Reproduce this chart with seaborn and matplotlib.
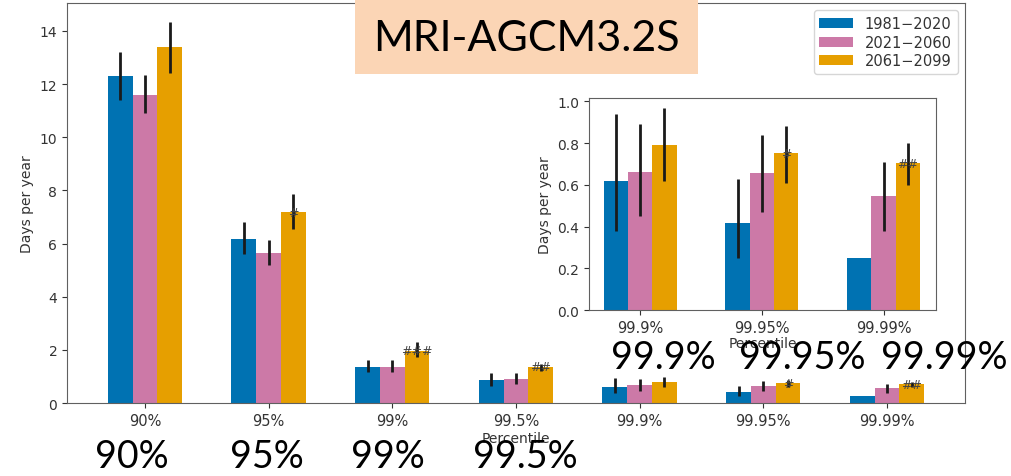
import numpy as np
import pandas as pd
import matplotlib.pyplot as plt
from matplotlib.patches import Rectangle
import seaborn as sns

# Data
percentiles = ['90%', '95%', '99%', '99.5%', '99.9%', '99.95%', '99.99%']
periods = ['1981−2020', '2021−2060', '2061−2099']

mean_1981 = [12.3, 6.18, 1.37, 0.87, 0.62, 0.415, 0.25]
mean_2021 = [11.6, 5.65, 1.37, 0.90, 0.66, 0.655, 0.548]
mean_2061 = [13.38, 7.18, 1.97, 1.37, 0.79, 0.75, 0.703]

lo_1981 = [11.4, 5.6, 1.16, 0.65, 0.38, 0.25, np.nan]
hi_1981 = [13.2, 6.8, 1.62, 1.12, 0.94, 0.63, np.nan]
lo_2021 = [10.9, 5.2, 1.16, 0.72, 0.45, 0.47, 0.38]
hi_2021 = [12.35, 6.15, 1.62, 1.12, 0.89, 0.84, 0.71]
lo_2061 = [12.4, 6.55, 1.73, 1.22, 0.62, 0.61, 0.60]
hi_2061 = [14.35, 7.85, 2.31, 1.45, 0.97, 0.88, 0.80]

signif = ['', '#', '###', '##', '', '#', '##']

inset_cats = ['99.9%', '99.95%', '99.99%']
title_text = 'MRI-AGCM3.2S'

colors = ['#0072B2', '#CC79A7', '#E69F00']

# long format table for seaborn
df = pd.DataFrame({
    'Percentile': percentiles * 3,
    'Period': [p for p in periods for _ in percentiles],
    'Days': mean_1981 + mean_2021 + mean_2061,
})
lows = [lo_1981, lo_2021, lo_2061]
highs = [hi_1981, hi_2021, hi_2061]

txt_color = '#333333'
plt.rcParams['text.color'] = txt_color
plt.rcParams['axes.labelcolor'] = txt_color
plt.rcParams['xtick.color'] = txt_color
plt.rcParams['ytick.color'] = txt_color
plt.rcParams['axes.edgecolor'] = '#606060'


def draw_bars(ax, data, cats, fs):
    sns.barplot(data=data, x='Percentile', y='Days', hue='Period',
                order=cats, hue_order=periods, palette=colors,
                saturation=1, width=0.6, errorbar=None, ax=ax,
                linewidth=0)
    idx = [percentiles.index(c) for c in cats]
    for k, cont in enumerate(ax.containers):
        for bar, i in zip(cont, idx):
            x = bar.get_x() + bar.get_width() / 2
            lo, hi = lows[k][i], highs[k][i]
            if not np.isnan(lo):
                ax.vlines(x, lo, hi, color='#1a1a1a', lw=2, zorder=3)
            if k == 2 and signif[i]:
                ax.text(x, bar.get_height(), signif[i], ha='center',
                        va='center', fontsize=fs, color='#444444', zorder=4)


fig = plt.figure(figsize=(10.11, 4.77), dpi=100)

# === main panel ===
ax = fig.add_axes([0.0663, 0.153, 0.888, 0.8386])
draw_bars(ax, df, percentiles, 9)
ax.set_xlim(-0.63, 6.63)
ax.set_ylim(0, 15.05)
ax.set_yticks(range(0, 15, 2))
ax.tick_params(axis='y', labelsize=10)
ax.tick_params(axis='x', labelsize=10.5)
ax.set_xlabel('Percentile', fontsize=10, labelpad=2)
ax.set_ylabel('Days per year', fontsize=10)
handles, labels = ax.get_legend_handles_labels()
ax.legend(handles, labels, loc='upper right', fontsize=10.5,
          borderaxespad=0.5, labelspacing=0.25, handlelength=2.3)

# === inset for the extreme percentiles ===
ax2 = fig.add_axes([0.5826, 0.348, 0.3432, 0.4445])
draw_bars(ax2, df[df['Percentile'].isin(inset_cats)], inset_cats, 9)
ax2.set_xlim(-0.42, 2.43)
ax2.set_ylim(0, 1.016)
ax2.set_yticks(np.arange(0, 1.01, 0.2))
ax2.tick_params(axis='y', labelsize=10)
ax2.tick_params(axis='x', labelsize=10.5)
ax2.set_xlabel('Percentile', fontsize=10, labelpad=1)
ax2.set_ylabel('Days per year', fontsize=10)
ax2.get_legend().remove()

# === title box ===
fig.add_artist(Rectangle((0.351, 0.8428), 0.3393, 0.1572,
                         transform=fig.transFigure, facecolor='#FBD5B5',
                         edgecolor='none', zorder=10))
fig.text(0.5208, 0.919, title_text, ha='center', va='center',
         fontsize=31, family='Lato', color='black', zorder=11)

# === large percentile labels ===
big_pos = [(132, 457), (267, 457), (388, 457), (525, 457),
           (663, 358), (802, 358), (944, 358)]
for lab, (px, py) in zip(percentiles, big_pos):
    fig.text(px / 1011, 1 - py / 477, lab, ha='center', va='center',
             fontsize=27, family='Lato', color='black', zorder=12)

fig.savefig('out.png', dpi=100)
